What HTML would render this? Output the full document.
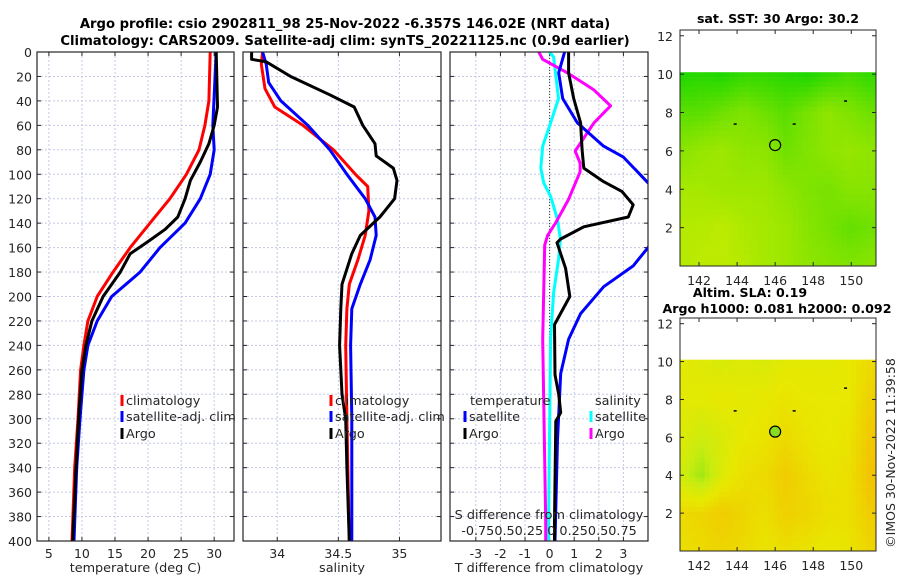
<!DOCTYPE html>
<html><head><meta charset="utf-8">
<style>
html,body{margin:0;padding:0;background:#fff;}
svg{display:block;font-family:"DejaVu Sans","Liberation Sans",sans-serif;}
</style></head>
<body>
<svg id="fig" width="900" height="580" viewBox="0 0 900 580" xmlns="http://www.w3.org/2000/svg">
<text x="345" y="28" text-anchor="middle" font-size="13.2" font-weight="bold" fill="#000">Argo profile: csio 2902811_98 25-Nov-2022 -6.357S 146.02E (NRT data)</text>
<text x="345" y="45" text-anchor="middle" font-size="13.2" font-weight="bold" fill="#000">Climatology: CARS2009. Satellite-adj clim: synTS_20221125.nc (0.9d earlier)</text>
<text x="778" y="23" text-anchor="middle" font-size="12.6" font-weight="bold" fill="#000">sat. SST: 30 Argo: 30.2</text>
<text x="750" y="297" text-anchor="middle" font-size="12.6" font-weight="bold" fill="#000">Altim. SLA: 0.19</text>
<text x="777" y="313" text-anchor="middle" font-size="12.6" font-weight="bold" fill="#000">Argo h1000: 0.081 h2000: 0.092</text>
<text transform="translate(895,453) rotate(-90)" text-anchor="middle" font-size="12.5" fill="#262626">©IMOS 30-Nov-2022 11:39:58</text>
</svg>
<script>
// ---------- data ----------
const depthTicks = [0,20,40,60,80,100,120,140,160,180,200,220,240,260,280,300,320,340,360,380,400];
const tempTicks = [5,10,15,20,25,30];
const salTicks = [34,34.5,35];
const diffTicks = [-3,-2,-1,0,1,2,3];

const tClimDepth = [0,40,60,80,100,120,140,160,180,200,220,240,260,300,340,400];
const tClimVal   = [29.4,29.2,28.6,27.7,25.8,23.3,20.3,17.3,14.7,12.3,10.9,10.3,9.8,9.4,8.9,8.5];
const tArgoDepth = [0,45,60,75,90,105,120,135,145,155,165,180,200,220,240,260,300,340,400];
const tArgoVal   = [30.3,30.5,30.0,29.2,27.9,26.4,25.6,24.5,22.6,20.0,17.3,15.8,13.2,11.5,10.6,10.0,9.5,9.1,8.6];
const tSatDepth  = [0,60,80,100,120,140,160,180,200,220,240,260,300,340,400];
const tSatVal    = [30.3,29.8,30.0,29.4,27.9,25.6,21.8,18.8,14.5,12.3,10.9,10.3,9.7,9.2,8.8];

const sClimDepth = [0,10,30,45,60,80,100,110,130,150,170,190,210,240,300,400];
const sClimVal   = [33.88,33.87,33.90,33.98,34.21,34.46,34.64,34.74,34.75,34.72,34.66,34.59,34.57,34.56,34.57,34.59];
const sSatDepth  = [0,10,25,40,60,80,100,120,135,150,170,190,210,240,300,400];
const sSatVal    = [33.88,33.91,33.93,34.03,34.25,34.43,34.57,34.72,34.80,34.81,34.76,34.68,34.61,34.60,34.61,34.61];
const sArgoDepth = [0,6,8,20,35,45,60,75,85,95,105,120,135,150,165,190,210,240,280,300,340,400];
const sArgoVal   = [33.79,33.79,33.91,34.11,34.43,34.63,34.70,34.80,34.81,34.95,34.98,34.96,34.84,34.68,34.61,34.53,34.52,34.51,34.53,34.56,34.57,34.59];

const dTSatDepth  = [0,17,38,58,77,86,107,130,160,175,192,214,235,263,317,400];
const dTSatVal    = [0.61,0.37,0.53,1.13,2.19,3.0,4.0,5.5,4.0,3.4,2.2,1.26,0.77,0.45,0.32,0.22];
const dTArgoDepth = [0,17,38,58,80,95,106,114,125,135,143,153,156,177,200,223,264,280,295,302,383,400];
const dTArgoVal   = [0.77,0.77,0.98,1.26,1.32,1.39,2.19,2.94,3.4,3.2,1.39,0.45,0.3,0.65,0.82,0.2,0.22,0.37,0.45,0.25,0.2,0.2];
const dSSatDepth  = [0,4,17,38,58,77,95,107,118,137,153,170,197,235,383,400];
const dSSatVal    = [0.0,0.04,0.06,0.09,0.01,-0.07,-0.09,-0.06,0.01,0.08,0.11,0.09,0.04,0.01,-0.01,-0.01];
const dSArgoDepth = [0,6,17,31,44,58,81,91,98,121,140,150,158,235,383,400];
const dSArgoVal   = [-0.11,-0.07,0.18,0.45,0.62,0.45,0.26,0.31,0.31,0.19,0.06,-0.02,-0.05,-0.07,-0.04,-0.04];

const lonTicks = [142,144,146,148,150];
const latTicks = [2,4,6,8,10,12];
// coarse fields (rows lat 10,8,6,4,2,0; cols lon 141..151)
const sstField = [
 [0.05,0.10,0.05,0.15,0.15,0.10,0.05,0.15,0.25,0.15],
 [0.35,0.35,0.45,0.55,0.45,0.35,0.50,0.65,0.55,0.45],
 [0.60,0.70,0.75,0.65,0.65,0.45,0.55,0.65,0.70,0.65],
 [0.80,0.80,0.75,0.75,0.75,0.65,0.55,0.50,0.60,0.60],
 [0.90,0.90,0.95,0.85,0.80,0.75,0.60,0.50,0.40,0.45],
 [0.90,0.95,0.95,0.90,0.80,0.75,0.65,0.60,0.55,0.60]];
const slaField = [
 [1.25,1.20,1.15,1.20,1.15,1.25,1.25,1.25,1.30,1.45],
 [1.25,1.25,1.30,1.25,1.30,1.35,1.30,1.30,1.30,1.55],
 [1.20,1.05,1.15,1.30,1.35,1.45,1.35,1.30,1.35,1.65],
 [1.10,0.80,1.20,1.40,1.45,1.60,1.45,1.35,1.40,1.70],
 [1.45,1.50,1.60,1.50,1.40,1.55,1.50,1.40,1.40,1.60],
 [1.40,1.45,1.50,1.45,1.35,1.40,1.35,1.30,1.35,1.50]];
const floatPos = [146.0, 6.3];
const markerLons = [143.9,147.0,149.7];
const markerLats = [7.4,7.4,8.6];

// ---------- helpers ----------
const NS='http://www.w3.org/2000/svg';
const svg=document.getElementById('fig');
function mk(tag,attrs,parent){const e=document.createElementNS(NS,tag);for(const k in attrs)e.setAttribute(k,attrs[k]);(parent||svg).appendChild(e);return e;}
const PY0=52,PY1=541;
function yD(d){return PY0+(d/400)*(PY1-PY0);}
function scaleX(x0,x1,v0,v1){return v=>x0+(v-v0)/(v1-v0)*(x1-x0);}
const panels=[
 {name:'temperature-panel',x0:37,x1:234,v0:3.2,v1:33,ticks:tempTicks,label:'temperature (deg C)'},
 {name:'salinity-panel',x0:243,x1:441,v0:33.72,v1:35.34,ticks:salTicks,label:'salinity'},
 {name:'difference-panel',x0:450,x1:648,v0:-4.05,v1:4.0,ticks:diffTicks,label:'T difference from climatology'}];
panels.forEach((p,i)=>{
  p.sx=scaleX(p.x0,p.x1,p.v0,p.v1);
  const g=mk('g',{});
  
  
  mk('defs',{},g).innerHTML='<clipPath id="clip'+i+'"><rect x="'+p.x0+'" y="'+PY0+'" width="'+(p.x1-p.x0)+'" height="'+(PY1-PY0)+'"/></clipPath>';
  p.ticks.forEach(t=>{const x=p.sx(t);
    const gl=mk('line',{x1:x,x2:x,y1:PY0,y2:PY1,stroke:'#c4c8e4','stroke-width':1,'stroke-dasharray':'2,2'},g);
    
    
    mk('line',{x1:x,x2:x,y1:PY1,y2:PY1-4,stroke:'#262626'},g);
    mk('line',{x1:x,x2:x,y1:PY0,y2:PY0+4,stroke:'#262626'},g);
    const tl=mk('text',{x:x,y:PY1+17,'text-anchor':'middle','font-size':12.5,fill:'#262626'},g);
    tl.textContent=t;
    
    
  });
  depthTicks.forEach(d=>{const y=yD(d);
    if(d>0&&d<400){const gl=mk('line',{x1:p.x0,x2:p.x1,y1:y,y2:y,stroke:'#c4c8e4','stroke-width':1,'stroke-dasharray':'2,2'},g);
      
      }
    mk('line',{x1:p.x0,x2:p.x0+4,y1:y,y2:y,stroke:'#262626'},g);
    mk('line',{x1:p.x1,x2:p.x1-4,y1:y,y2:y,stroke:'#262626'},g);
    if(i===0){const tl=mk('text',{x:p.x0-5,y:y+5,'text-anchor':'end','font-size':12.5,fill:'#262626'},g);
      tl.textContent=d;
      
      }
  });
  const al=mk('text',{x:(p.x0+p.x1)/2,y:572,'text-anchor':'middle','font-size':12.8,fill:'#262626'},g);
  al.textContent=p.label;
  
  
  p.g=g;
});
const P3=panels[2];
const zl=mk('line',{x1:P3.sx(0),x2:P3.sx(0),y1:PY0,y2:PY1,stroke:'#333','stroke-width':1,'stroke-dasharray':'1,2'},P3.g);



function series(pi,depths,vals,color,name,scale){
  const p=panels[pi];const k=scale||1;
  const pts=depths.map((d,j)=>p.sx(vals[j]*k).toFixed(1)+','+yD(d).toFixed(1)).join(' ');
  const l=mk('polyline',{points:pts,fill:'none',stroke:color,'stroke-width':3,'stroke-linejoin':'round','clip-path':'url(#clip'+pi+')'},p.g);
  
  
}
series(0,tClimDepth,tClimVal,'#ff0000','temp-climatology-line');
series(0,tSatDepth,tSatVal,'#0000ff','temp-satellite-line');
series(0,tArgoDepth,tArgoVal,'#000000','temp-argo-line');
series(1,sClimDepth,sClimVal,'#ff0000','sal-climatology-line');
series(1,sSatDepth,sSatVal,'#0000ff','sal-satellite-line');
series(1,sArgoDepth,sArgoVal,'#000000','sal-argo-line');
series(2,dSSatDepth,dSSatVal,'#00ffff','dsal-satellite-line',4);
series(2,dSArgoDepth,dSArgoVal,'#ff00ff','dsal-argo-line',4);
series(2,dTSatDepth,dTSatVal,'#0000ff','dtemp-satellite-line');
series(2,dTArgoDepth,dTArgoVal,'#000000','dtemp-argo-line');

panels.forEach(p=>{const b=mk('rect',{x:p.x0,y:PY0,width:p.x1-p.x0,height:PY1-PY0,fill:'none',stroke:'#262626','stroke-width':1.2},p.g);
  
  });

function legendItem(g,x,y,color,label){
  const it=mk('g',{},g);
  
  
  mk('line',{x1:x,x2:x,y1:y-10,y2:y+1,stroke:color,'stroke-width':3},it);
  const t=mk('text',{x:x+4,y:y,'font-size':12.8,fill:'#262626'},it);t.textContent=label;
}
const lg1=mk('g',{});


legendItem(lg1,122,405,'#ff0000','climatology');
legendItem(lg1,122,421,'#0000ff','satellite-adj. clim');
legendItem(lg1,122,438,'#000000','Argo');
const lg2=mk('g',{});


legendItem(lg2,331,405,'#ff0000','climatology');
legendItem(lg2,331,421,'#0000ff','satellite-adj. clim');
legendItem(lg2,331,438,'#000000','Argo');
const lg3=mk('g',{});


let t=mk('text',{x:470,y:405,'font-size':12.8,fill:'#262626'},lg3);t.textContent='temperature';
t=mk('text',{x:595,y:405,'font-size':12.8,fill:'#262626'},lg3);t.textContent='salinity';
legendItem(lg3,465,421,'#0000ff','satellite');
legendItem(lg3,465,438,'#000000','Argo');
legendItem(lg3,591,421,'#00ffff','satellite');
legendItem(lg3,591,438,'#ff00ff','Argo');
const sax=mk('g',{});


t=mk('text',{x:549,y:519,'text-anchor':'middle','font-size':12.8,fill:'#262626'},sax);t.textContent='S difference from climatology';
t=mk('text',{x:549,y:535,'text-anchor':'middle','font-size':12.8,fill:'#262626'},sax);t.textContent='-0.750.50.25 0 0.250.50.75';

// ---------- maps ----------
function lerpC(a,b,f){return a.map((v,i)=>Math.round(v+(b[i]-v)*f));}
const sstStops=[[0,[20,214,0]],[0.5,[120,226,0]],[1,[196,236,0]]];
const slaStops=[[0.5,[100,226,20]],[1,[200,236,16]],[1.3,[232,232,0]],[1.75,[244,190,0]]];
function cmap(stops,v){if(v<=stops[0][0])return stops[0][1];
  for(let i=1;i<stops.length;i++){if(v<=stops[i][0]){const f=(v-stops[i-1][0])/(stops[i][0]-stops[i-1][0]);return lerpC(stops[i-1][1],stops[i][1],f);}}
  return stops[stops.length-1][1];}
function sample(field,lon,lat){
  const c=(lon-141)/10*9, r=(10-lat)/10*5;
  const c0=Math.max(0,Math.min(8,Math.floor(c))), r0=Math.max(0,Math.min(4,Math.floor(r)));
  const fc=Math.max(0,Math.min(1,c-c0)), fr=Math.max(0,Math.min(1,r-r0));
  const a=field[r0][c0]*(1-fc)+field[r0][c0+1]*fc, b=field[r0+1][c0]*(1-fc)+field[r0+1][c0+1]*fc;
  return a*(1-fr)+b*fr;}
function drawMap(name,yTop,yBot,field,stops,cell,circleFill){
  const g=mk('g',{});
  
  
  const X0=680,X1=876;
  const sx=scaleX(X0,X1,141,151.3), sy=v=>yBot-(v/12.3)*(yBot-yTop);
  const y10=sy(10.1);
  for(let y=y10;y<yBot;y+=cell){for(let x=X0;x<X1;x+=cell){
    const lon=141+(x+cell/2-X0)/(X1-X0)*10.3, lat=(yBot-(y+cell/2))/(yBot-yTop)*12.3;
    const c=cmap(stops,sample(field,lon,lat));
    mk('rect',{x:x,y:y,width:Math.min(cell,X1-x)+0.3,height:Math.min(cell,yBot-y)+0.3,fill:'rgb('+c.join(',')+')'},g);}}
  markerLons.forEach((lo,j)=>{const m=mk('rect',{x:sx(lo)-1.5,y:sy(markerLats[j])-0.7,width:3,height:1.5,fill:'#000'},g);
    
    });
  const c=mk('circle',{cx:sx(floatPos[0]),cy:sy(floatPos[1]),r:5.5,fill:circleFill,stroke:'#000','stroke-width':1.2},g);
  
  
  mk('rect',{x:X0,y:yTop,width:X1-X0,height:yBot-yTop,fill:'none',stroke:'#262626','stroke-width':1},g);
  lonTicks.forEach(v=>{const x=sx(v);mk('line',{x1:x,x2:x,y1:yBot,y2:yBot-4,stroke:'#262626'},g);mk('line',{x1:x,x2:x,y1:yTop,y2:yTop+4,stroke:'#262626'},g);
    const tl=mk('text',{x:x,y:yBot+19,'text-anchor':'middle','font-size':12.5,fill:'#262626'},g);tl.textContent=v;
    
    });
  latTicks.forEach(v=>{const y=sy(v);mk('line',{x1:X0,x2:X0+4,y1:y,y2:y,stroke:'#262626'},g);mk('line',{x1:X1,x2:X1-4,y1:y,y2:y,stroke:'#262626'},g);
    const tl=mk('text',{x:X0-7,y:y+5,'text-anchor':'end','font-size':12.5,fill:'#262626'},g);tl.textContent=v;
    
    });
}
drawMap('sst-map',30,266,sstField,sstStops,4.9,'none');
drawMap('sla-map',318,551,slaField,slaStops,4.9,'#88dd22');
</script>
</body></html>
